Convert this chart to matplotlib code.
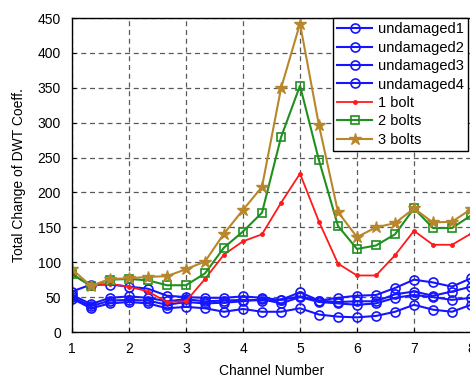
import numpy as np
import matplotlib
matplotlib.use('Agg')
import matplotlib.pyplot as plt

plt.rcParams['font.family'] = ['Liberation Sans', 'DejaVu Sans']

# channel positions: 1 .. 8 in steps of 1/3
channels = [1 + k / 3 for k in range(22)]

undamaged1 = [58, 68, 68, 65, 62, 52, 50, 49, 49, 51, 49, 46, 57, 45, 49, 52, 53, 63, 75, 71, 65, 77]
undamaged2 = [53, 40, 49, 51, 49, 44, 47, 44, 45, 46, 45, 46, 51, 45, 43, 44, 44, 54, 58, 52, 58, 65]
undamaged3 = [50, 37, 45, 46, 45, 39, 43, 41, 42, 44, 47, 41, 50, 43, 41, 39, 41, 49, 53, 50, 46, 49]
undamaged4 = [48, 34, 41, 43, 41, 34, 36, 34, 29, 33, 29, 29, 34, 25, 22, 21, 23, 29, 39, 32, 29, 39]
bolt1 = [83, 66, 69, 65, 58, 43, 44, 76, 111, 130, 140, 185, 227, 158, 98, 81, 81, 110, 145, 125, 125, 141]
bolt2 = [83, 66, 75, 76, 74, 67, 67, 84, 121, 144, 171, 279, 353, 246, 152, 119, 124, 140, 177, 149, 149, 167]
bolt3 = [90, 66, 76, 77, 79, 80, 90, 101, 141, 175, 208, 349, 442, 296, 172, 136, 150, 156, 177, 157, 158, 176]

fig = plt.figure(figsize=(4.7, 3.79), dpi=100)
ax = fig.add_axes([72 / 470, 1 - 332 / 379, 399 / 470, (332 - 18) / 379])

blue = '#1515ff'
for i, u in enumerate([undamaged1, undamaged2, undamaged3, undamaged4]):
    ax.plot(channels, u, color=blue, marker='o', markersize=6.5,
            markerfacecolor='none', markeredgewidth=1.2, linewidth=1.5,
            label='undamaged%d' % (i + 1))
ax.plot(channels, bolt1, color='#ff1a1a', marker='.', markersize=5,
        linewidth=1.3, label='1 bolt')
ax.plot(channels, bolt2, color='#1f8f1f', marker='s', markersize=6,
        markerfacecolor='none', markeredgewidth=1.2, linewidth=1.5,
        label='2 bolts')
ax.plot(channels, bolt3, color='#b8862b', marker='*', markersize=9,
        linewidth=1.5, label='3 bolts')

ax.set_xlim(1, 8)
ax.set_ylim(0, 450)
ax.set_xticks(range(1, 9))
ax.set_yticks(range(0, 451, 50))
ax.tick_params(labelsize=10, direction='in', length=3)
ax.tick_params(axis='y', pad=8)
ax.tick_params(axis='x', pad=7)
ax.grid(True, color='0.35', linestyle=(0, (4, 3)), linewidth=0.9)
ax.set_xlabel('Channel Number', fontsize=10, labelpad=6)
ax.set_ylabel('Total Change of DWT Coeff.', fontsize=10, labelpad=8)
for s in ax.spines.values():
    s.set_linewidth(1.0)

leg = ax.legend(loc='upper left', bbox_to_anchor=(0.654, 1.0),
                borderaxespad=0, fontsize=10.5, fancybox=False,
                framealpha=1, edgecolor='black', handlelength=2.4,
                labelspacing=0.3, borderpad=0.3, handletextpad=0.4)
leg.get_frame().set_linewidth(1.0)

plt.savefig('out.png', dpi=100)
